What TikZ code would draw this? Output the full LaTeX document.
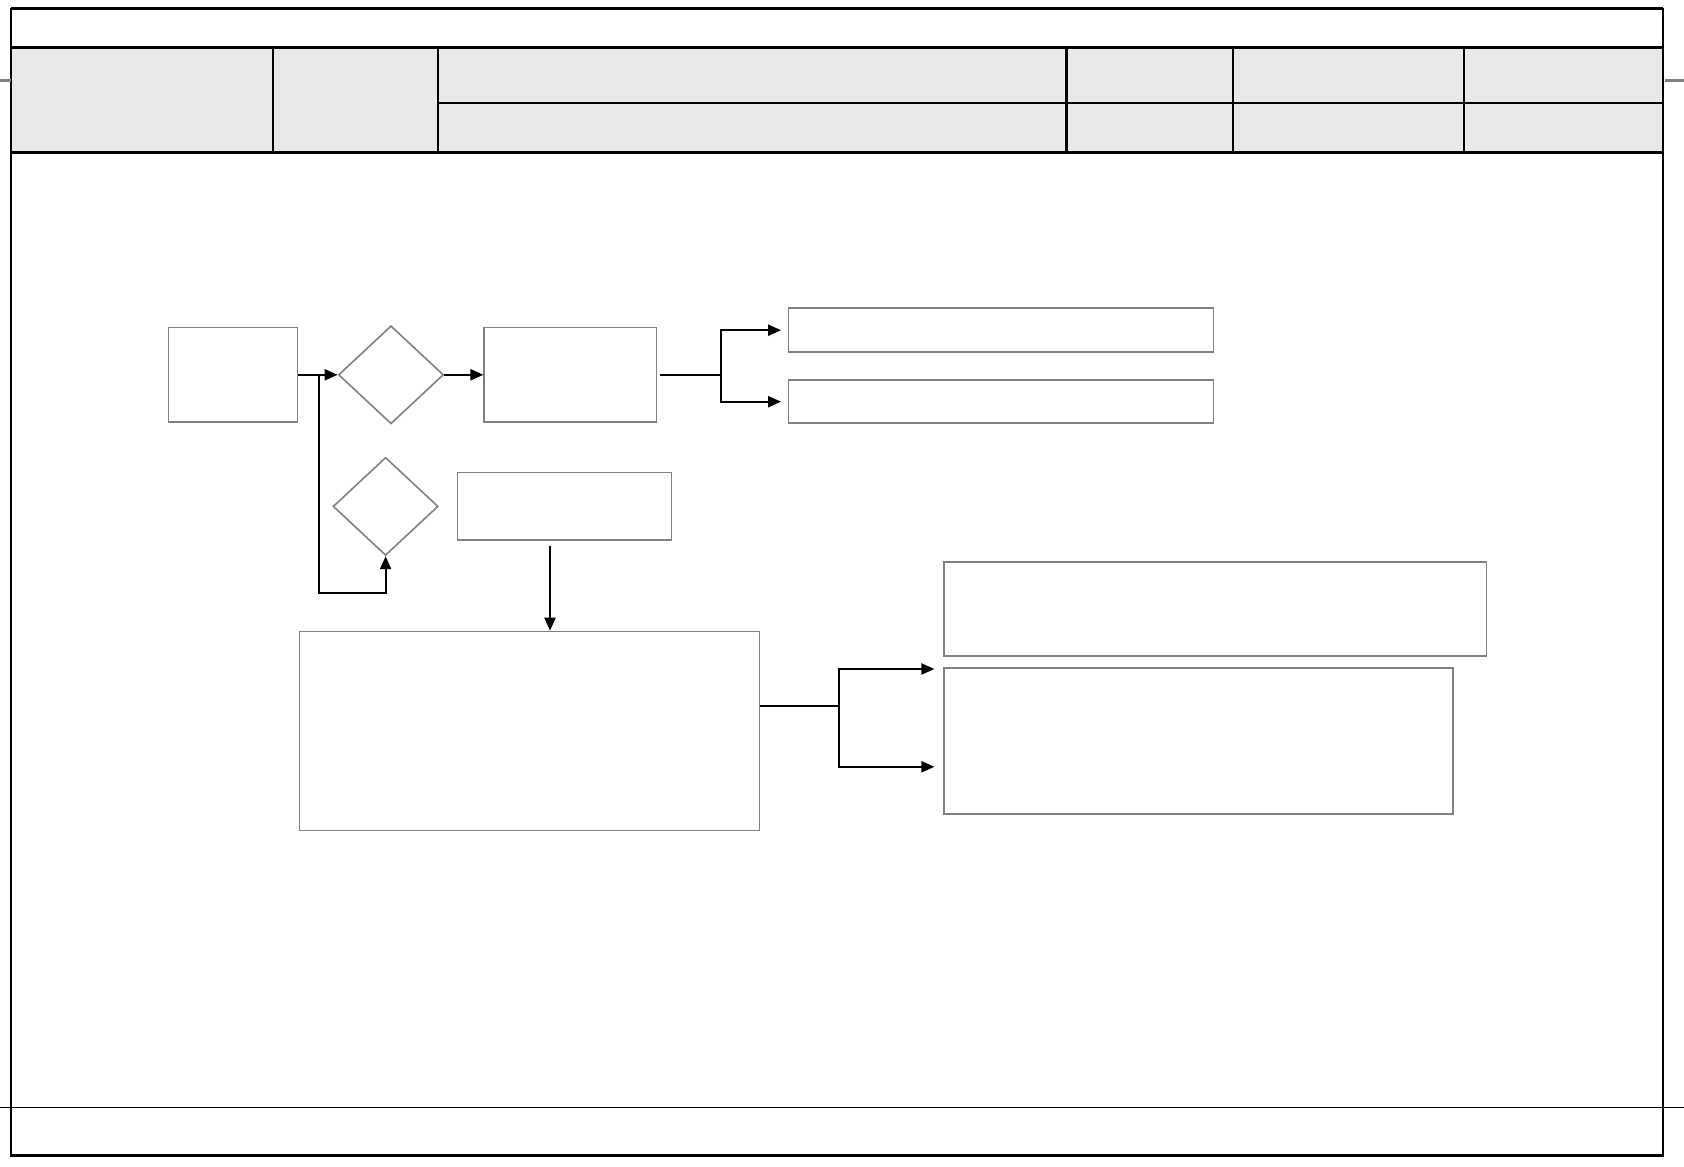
\documentclass[tikz,border=0pt]{standalone}
\usetikzlibrary{shapes.geometric, arrows.meta}
\definecolor{hdrgray}{HTML}{E9E9E9}
\definecolor{boxgray}{HTML}{808080}
\begin{document}
\begin{tikzpicture}[x=0.01cm, y=-0.01cm,
		box/.style={draw=boxgray, line width=0.45pt, inner sep=0pt},
		decide/.style={diamond, draw=boxgray, line width=0.45pt, inner sep=0pt, minimum width=1.05cm, minimum height=0.98cm},
		wire/.style={line width=0.6pt},
		link/.style={wire, -{Triangle[length=0.13cm, width=0.11cm]}}]
		\useasboundingbox (0,0) rectangle (1684,1166);

		\fill [hdrgray] (10.7,47.3) rectangle (1664,152.5);
		\draw [line width=0.55pt] (10.7,8.6) rectangle (1662.6,1155.6);
		\draw [line width=0.9pt] (10.7,8.6) -- (1662.6,8.6);
		\draw [line width=1pt] (10.7,1155.6) -- (1662.6,1155.6);
		\draw [line width=1pt] (10.7,47.3) -- (1662.6,47.3);
		\draw [line width=1pt] (10.7,152.5) -- (1662.6,152.5);
		\draw [line width=0.7pt] (438.2,103.1) -- (1662.6,103.1);
		\foreach \c in {272.8, 438.2, 1066.5, 1233, 1463.9}
			\draw [line width=0.7pt] (\c,48) -- (\c,152);
		\draw [boxgray, line width=0.6pt] (0,80.5) -- (10.7,80.5);
		\draw [boxgray, line width=0.6pt] (1665,80.5) -- (1684,80.5);
		\draw [line width=0.35pt] (0,1107.3) -- (1684,1107.3);

		\node [box, minimum width=1.29cm, minimum height=0.945cm] (start) at (233,374.8) {};
		\node [decide] (check) at (391,374.8) {};
		\node [box, minimum width=1.72cm, minimum height=0.945cm] (proc) at (570.3,374.8) {};
		\node [box, minimum width=4.25cm, minimum height=0.44cm] (outa) at (1001,330.2) {};
		\node [box, minimum width=4.25cm, minimum height=0.43cm] (outb) at (1001,401.7) {};
		\node [decide] (recheck) at (385.6,506.4) {};
		\node [box, minimum width=2.14cm, minimum height=0.676cm] (note) at (564.4,506.4) {};
		\node [box, minimum width=4.6cm, minimum height=1.987cm] (main) at (529.5,730.9) {};
		\node [box, minimum width=5.42cm, minimum height=0.945cm] (resa) at (1215.2,609) {};
		\node [box, minimum width=5.09cm, minimum height=1.46cm] (resb) at (1198.6,741) {};

		\coordinate (split) at (319,374.8);
		\coordinate (low) at (319,592.8);
		\coordinate (fork) at (720.7,374.8);
		\coordinate (drop) at (550,545.6);
		\coordinate (fork2) at (838.8,705.6);
		\coordinate (ina) at (934.4,669);
		\coordinate (inb) at (934.4,766.8);

		\draw [link] (start.east) -- (check.west);
		\draw [link] (split) -- (low) -| (recheck.south);
		\draw [link] (check.east) -- (proc.west);
		\draw [wire] ([xshift=0.03cm]proc.east) -- (fork);
		\draw [link, shorten >=0.065cm] (fork) |- (outa.west);
		\draw [link, shorten >=0.065cm] (fork) |- (outb.west);
		\draw [link] (drop) -- (drop |- main.north);
		\draw [wire] (main.east |- fork2) -- (fork2);
		\draw [link] (fork2) |- (ina);
		\draw [link] (fork2) |- (inb);
	\end{tikzpicture}
\end{document}
